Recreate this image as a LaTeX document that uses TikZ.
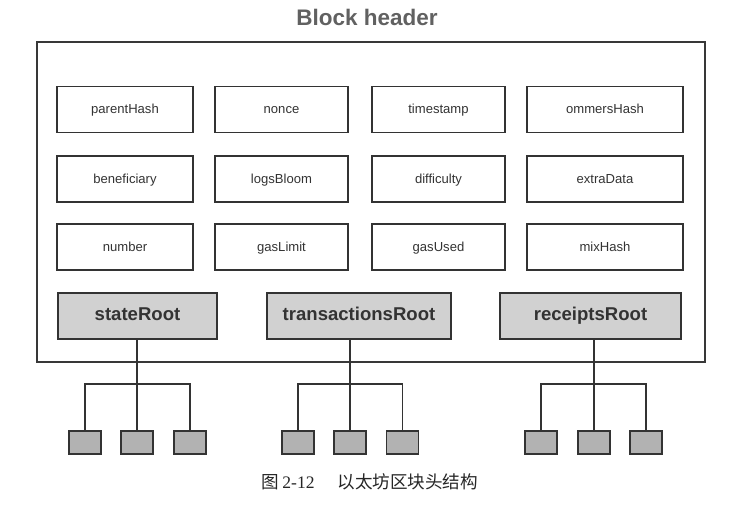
\documentclass[tikz,border=0pt]{standalone}
\usepackage{fontspec}
\setmainfont{Liberation Sans}
\newfontfamily\cjk{Noto Sans CJK SC}
\newfontfamily\serifnum{Liberation Serif}
\begin{document}
\begin{tikzpicture}[
        every node/.style={font=\fontsize{9.3}{11}\selectfont, text=black!80},
        caixa/.style={draw=black!78, line width=1.3pt, minimum width=16.7cm, minimum height=8cm, inner sep=0pt},
        campo/.style={draw=black!80, line width=1.1pt, minimum width=3.325cm, minimum height=1.15cm, inner sep=0pt, text height=1.6ex, text depth=0.45ex},
        raiz/.style={campo, fill=black!18, font=\fontsize{13.2}{16}\selectfont\bfseries},
        folha/.style={draw=black!80, line width=1pt, fill=black!30, minimum width=0.8cm, minimum height=0.575cm, inner sep=0pt},
        ramo/.style={draw=black!80, line width=1.1pt},
        titulo/.style={font=\fontsize{16}{19}\selectfont\bfseries, text=black!62},
        legenda/.style={font=\fontsize{12.5}{15}\selectfont, text=black!85}
    ]
    \useasboundingbox (0,0) rectangle (18.6,12.6);

    % Titulo e caixa do cabecalho
    \node[titulo] (titulo) at (9.175, 12.175) {Block header};
    \node[caixa] (bloco) at (9.275, 7.55) {};

    % Linha 1
    \node[campo, minimum width=3.4cm] (parent) at (3.125, 9.8625) {parentHash};
    \node[campo] (nonce) at (7.0375, 9.8625) {nonce};
    \node[campo] (tempo) at (10.9625, 9.8625) {timestamp};
    \node[campo, minimum width=3.9cm] (ommers) at (15.125, 9.8625) {ommersHash};

    % Linha 2
    \node[campo, minimum width=3.4cm] (benef) at (3.125, 8.125) {beneficiary};
    \node[campo] (logs) at (7.0375, 8.125) {logsBloom};
    \node[campo] (dific) at (10.9625, 8.125) {difficulty};
    \node[campo, minimum width=3.9cm] (extra) at (15.125, 8.125) {extraData};

    % Linha 3
    \node[campo, minimum width=3.4cm] (numero) at (3.125, 6.425) {number};
    \node[campo] (limite) at (7.0375, 6.425) {gasLimit};
    \node[campo] (usado) at (10.9625, 6.425) {gasUsed};
    \node[campo, minimum width=3.9cm] (mix) at (15.125, 6.425) {mixHash};

    % Raizes
    \node[raiz, minimum width=3.975cm] (estado) at (3.4375, 4.7) {stateRoot};
    \node[raiz, minimum width=4.6cm] (trans) at (8.975, 4.7) {transactionsRoot};
    \node[raiz, minimum width=4.525cm] (recibo) at (14.7625, 4.7) {receiptsRoot};

    % Folhas
    \node[folha] (e1) at (2.125, 1.5375) {};
    \node[folha] (e2) at (3.425, 1.5375) {};
    \node[folha] (e3) at (4.75, 1.5375) {};
    \node[folha] (t1) at (7.45, 1.5375) {};
    \node[folha] (t2) at (8.75, 1.5375) {};
    \node[folha] (t3) at (10.0625, 1.5375) {};
    \node[folha] (r1) at (13.525, 1.5375) {};
    \node[folha] (r2) at (14.85, 1.5375) {};
    \node[folha] (r3) at (16.15, 1.5375) {};

    % Ramos
    \coordinate (ramoE) at (3.425, 3.0);
    \coordinate (ramoT) at (8.75, 3.0);
    \coordinate (ramoR) at (14.85, 3.0);
    \draw[ramo] (e2.north |- estado.south) -- (e2.north);
    \draw[ramo] (e1.north) |- (ramoE) -| (e3.north);
    \draw[ramo] (t2.north |- trans.south) -- (t2.north);
    \draw[ramo] (t1.north) |- (ramoT) -| (t3.north);
    \draw[ramo] (r2.north |- recibo.south) -- (r2.north);
    \draw[ramo] (r1.north) |- (ramoR) -| (r3.north);

    % Legenda
    \node[legenda] (fig) at (9.25, 0.55) {\cjk 图\kern2pt{\serifnum 2-12}\hspace{1.3em}以太坊区块头结构};

\end{tikzpicture}
\end{document}
